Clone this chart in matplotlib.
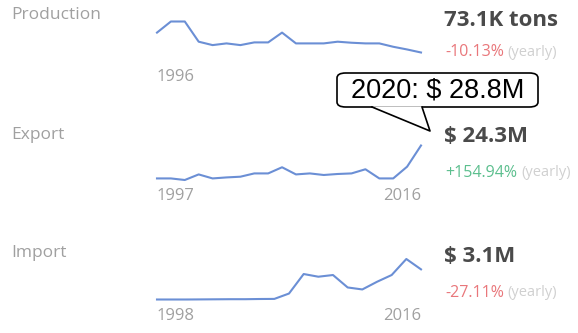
import matplotlib
matplotlib.use("Agg")
import matplotlib.pyplot as plt
from matplotlib.patches import FancyBboxPatch, Polygon
from matplotlib.lines import Line2D

W, H = 578, 333

# sparkline data
prod_years = list(range(1996, 2016))
prod_vals = [126.9, 156.9, 156.9, 102.3, 93.1, 97.7, 93.1, 100.4, 100.4, 126.9,
             97.7, 97.7, 97.7, 102.3, 99.5, 97.7, 97.7, 88.6, 81.3, 73.1]

exp_years = list(range(1997, 2017))
exp_vals = [1.3, 1.3, 0.2, 4.1, 1.3, 2.0, 2.5, 4.8, 4.8, 9.1,
            4.1, 4.8, 3.7, 4.4, 4.8, 7.7, 1.3, 1.3, 9.5, 24.3]

imp_years = list(range(1998, 2017))
imp_vals = [0.07, 0.07, 0.07, 0.08, 0.09, 0.1, 0.1, 0.12, 0.13, 0.67,
            2.63, 2.36, 2.53, 1.28, 1.08, 1.85, 2.53, 4.14, 3.1]

titles = ["Production", "Export", "Import"]
totals = ["73.1K tons", "$ 24.3M", "$ 3.1M"]
changes = ["-10.13%", "+154.94%", "-27.11%"]
start_labels = ["1996", "1997", "1998"]
end_labels = [None, "2016", "2016"]
tooltip = "2020: $ 28.8M"

LINE = "#6b8fd5"
GREY = "#a0a0a0"
DARK = "#4a4a4a"
RED = "#e9777b"
GREEN = "#5cbf8e"
LIGHT = "#d0d0d0"

plt.rcParams['font.family'] = ['Open Sans', 'DejaVu Sans']

fig = plt.figure(figsize=(W / 100, H / 100), dpi=100)


def fx(x):
    return x / W


def fy(y):
    return 1 - y / H


# pixel layout of each row: sparkline top/bottom, title y, value y, change y, year y
rows = [
    dict(years=prod_years, vals=prod_vals, top=21.5, bot=52.5, ty=15, vy=20, cy=52, yy=77),
    dict(years=exp_years, vals=exp_vals, top=145.5, bot=180, ty=135, vy=137, cy=173, yy=196),
    dict(years=imp_years, vals=imp_vals, top=259, bot=299.5, ty=253, vy=257, cy=293, yy=316),
]
x0, x1 = 157, 421

renderer = fig.canvas.get_renderer()

for i, r in enumerate(rows):
    ax = fig.add_axes([fx(x0), fy(r['bot']), (x1 - x0) / W, (r['bot'] - r['top']) / H])
    ax.plot(r['years'], r['vals'], color=LINE, lw=1.5, solid_joinstyle='round', clip_on=False)
    ax.set_xlim(r['years'][0], r['years'][-1])
    ax.set_ylim(min(r['vals']), max(r['vals']))
    ax.axis('off')

    fig.text(fx(11), fy(r['ty']), titles[i], color=GREY, fontsize=12.5, va='center', ha='left')
    fig.text(fx(x0), fy(r['yy']), start_labels[i], color=GREY, fontsize=12, va='center', ha='left')
    if end_labels[i]:
        fig.text(fx(x1), fy(r['yy']), end_labels[i], color=GREY, fontsize=12, va='center', ha='right')

    fig.text(fx(444), fy(r['vy']), totals[i], color=DARK, fontsize=16, fontweight='bold',
             va='center', ha='left')
    col = GREEN if changes[i].startswith('+') else RED
    t = fig.text(fx(445), fy(r['cy']), changes[i], color=col, fontsize=11.5, va='center', ha='left')
    bb = t.get_window_extent(renderer)
    fig.text(fx(bb.x1 + 4), fy(r['cy']), "(yearly)", color=LIGHT, fontsize=10.5, va='center', ha='left')

# tooltip callout pointing at the end of the export line
box = FancyBboxPatch((fx(337), fy(107)), (538 - 337) / W, (107 - 73) / H,
                     boxstyle="round,pad=0,rounding_size=0.015", transform=fig.transFigure,
                     facecolor='white', edgecolor='black', lw=1.2, zorder=5)
fig.patches.append(box)
tail = Polygon([(fx(372), fy(106.3)), (fx(430), fy(131)), (fx(422), fy(106.3))],
               closed=True, transform=fig.transFigure, facecolor='white', edgecolor='none', zorder=6)
fig.patches.append(tail)
fig.lines.append(Line2D([fx(372), fx(430), fx(422)], [fy(107), fy(131), fy(107)],
                        transform=fig.transFigure, color='black', lw=1.2, zorder=7))
fig.text(fx(437.5), fy(91), tooltip, family=['Liberation Sans', 'DejaVu Sans'], fontsize=19.5,
         color='black', ha='center', va='center', zorder=8)

fig.savefig("out.png", dpi=100)
